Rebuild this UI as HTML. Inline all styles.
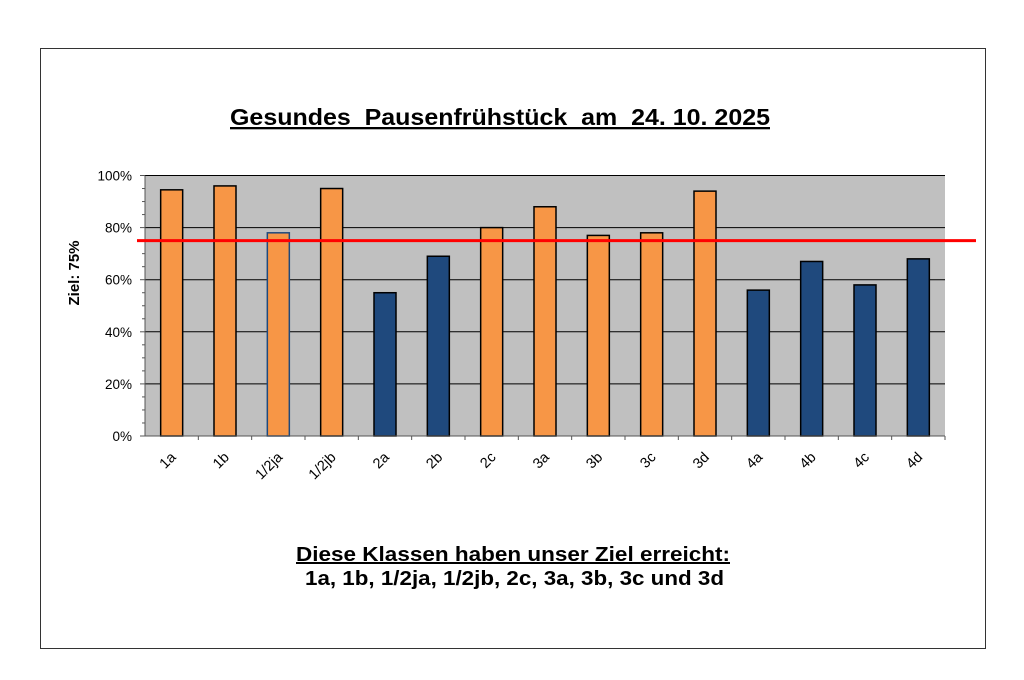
<!DOCTYPE html>
<html><head><meta charset="utf-8"><style>
html,body{margin:0;padding:0;background:#fff;width:1024px;height:680px;overflow:hidden;font-family:"Liberation Sans",Arial,sans-serif}
</style></head><body>
<svg width="1024" height="680" viewBox="0 0 1024 680" xmlns="http://www.w3.org/2000/svg">
<rect x="40.5" y="48.5" width="945" height="600" fill="#fff" stroke="#333" stroke-width="1"/>
<text x="230" y="125" textLength="540" lengthAdjust="spacingAndGlyphs" font-size="23" font-weight="bold" text-decoration="underline" style="white-space:pre">Gesundes  Pausenfrühstück  am  24. 10. 2025</text>
<rect x="145" y="175.5" width="800" height="260.5" fill="#c0c0c0"/>
<g id="grid"></g>
<g id="bars"></g>
<g id="axes"></g>
<text transform="translate(79,273) rotate(-90)" text-anchor="middle" font-size="15" font-weight="bold">Ziel: 75%</text>
<line id="target" x1="137" x2="976" stroke="#ff0000" stroke-width="3"/>
<text x="296" y="561" textLength="434" lengthAdjust="spacingAndGlyphs" font-size="20" font-weight="bold" text-decoration="underline">Diese Klassen haben unser Ziel erreicht:</text>
<text x="305" y="585" textLength="419" lengthAdjust="spacingAndGlyphs" font-size="20" font-weight="bold">1a, 1b, 1/2ja, 1/2jb, 2c, 3a, 3b, 3c und 3d</text>
</svg>
<script>
const categories=["1a","1b","1/2ja","1/2jb","2a","2b","2c","3a","3b","3c","3d","4a","4b","4c","4d"];
const values=[94.5,96,78,95,55,69,80,88,77,78,94,56,67,58,68];
const yTicks=[0,20,40,60,80,100];
const yTickLabels=["0%","20%","40%","60%","80%","100%"];
const target=75;
const NS="http://www.w3.org/2000/svg";
const X0=145,W=800,Y0=436,H=260.5;
const step=W/categories.length;
function y(v){return Y0-v/100*H;}
function xc(i){return X0+step*(i+0.5);}
function mk(t,a,p){const e=document.createElementNS(NS,t);for(const k in a)e.setAttribute(k,a[k]);p.appendChild(e);return e;}
const grid=document.getElementById('grid'),bars=document.getElementById('bars'),axes=document.getElementById('axes');
yTicks.forEach((v,i)=>{
 if(v>0){const l=mk('line',{x1:X0,x2:X0+W,y1:y(v),y2:y(v),stroke:'#000','stroke-width':1},grid);
 
 }
 const t=mk('text',{x:X0-13,y:y(v)+5,'text-anchor':'end','font-size':13.5},axes);t.textContent=yTickLabels[i];
 
 
});
for(let v=0;v<=100;v+=5){mk('line',{x1:X0-(v%20===0?5:3),x2:X0,y1:y(v),y2:y(v),stroke:'#555','stroke-width':1},axes);}
mk('line',{x1:X0,x2:X0,y1:y(100),y2:Y0,stroke:'#555','stroke-width':1},axes);
mk('line',{x1:X0,x2:X0+W,y1:Y0,y2:Y0,stroke:'#555','stroke-width':1},axes);
categories.forEach((c,i)=>{
 const v=values[i];const ok=v>=target;
 const b=mk('rect',{x:xc(i)-11,y:y(v),width:22,height:Y0-y(v),fill:ok?'#f79646':'#1f497d',stroke:i===2?'#1f497d':'#000','stroke-width':1.5},bars);
 
 
 mk('line',{x1:X0+step*(i+1),x2:X0+step*(i+1),y1:Y0,y2:Y0+4,stroke:'#555'},axes);
 const t=mk('text',{transform:'translate('+(xc(i)+5)+','+(Y0+22)+') rotate(-45)','text-anchor':'end','font-size':14.5},axes);
 t.textContent=c;
 
 
});
const tl=document.getElementById('target');tl.setAttribute('y1',y(target));tl.setAttribute('y2',y(target));
</script>
</body></html>
